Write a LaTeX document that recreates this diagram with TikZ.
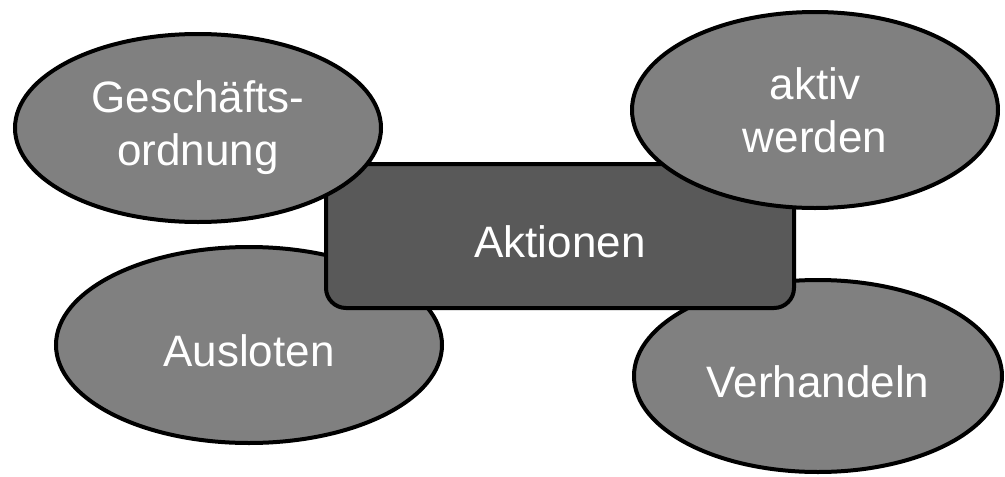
\documentclass[tikz,border=0pt]{standalone}
\usepackage{fontspec}
\setmainfont{Liberation Sans}
\usetikzlibrary{shapes.geometric}
\definecolor{ellfill}{HTML}{808080}
\definecolor{boxfill}{HTML}{595959}
\tikzset{
  bubble/.style={ellipse, draw=black, line width=4pt, fill=ellfill, text=white,
    inner sep=0pt, align=center, font=\fontsize{44}{53}\selectfont},
  oneline/.style={text height=42pt, text depth=0pt},
  mainbox/.style={rectangle, rounded corners=20pt, draw=black, line width=4pt,
    fill=boxfill, text=white, inner sep=0pt, font=\fontsize{44}{53}\selectfont}
}
\begin{document}
\begin{tikzpicture}[x=1pt,y=-1pt]
\useasboundingbox (0,0) rectangle (1005,477);
\node[bubble, oneline, minimum width=386pt, minimum height=196pt] (ausloten) at (249,345) {Ausloten};
\node[bubble, oneline, minimum width=368pt, minimum height=192pt] (verhandeln) at (818,376) {Verhandeln};
\node[mainbox, oneline, minimum width=468pt, minimum height=144pt] (aktionen) at (560,236) {Aktionen};
\node[bubble, minimum width=366pt, minimum height=188pt] (gesch) at (198,128) {Geschäfts-\\ordnung};
\node[bubble, minimum width=366pt, minimum height=196pt] (aktiv) at (815,110) {aktiv\\werden};
\end{tikzpicture}
\end{document}
